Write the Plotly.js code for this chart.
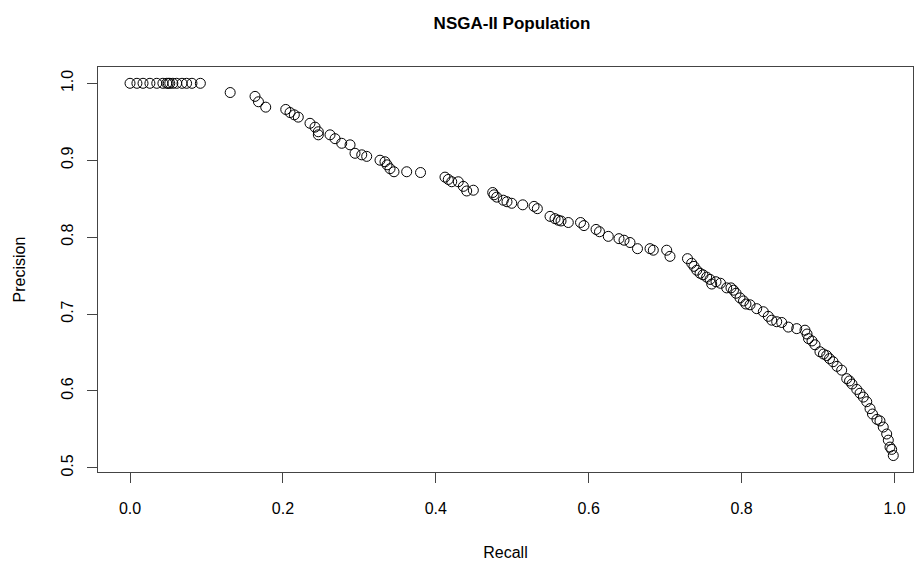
<!DOCTYPE html>
<html>
<head>
<meta charset="utf-8">
<script src="https://cdn.plot.ly/plotly-3.0.1.min.js"></script>
<style>html,body{margin:0;padding:0;background:#fff;}#chart{width:916px;height:565px;}</style>
</head>
<body>
<div id="chart"></div>
<script>
// Recall (x) values of the NSGA-II population
const recall = [
  0.000, 0.009, 0.017, 0.026, 0.035, 0.043, 0.048, 0.050, 0.052, 0.056, 0.061, 0.068, 0.074, 0.081, 0.092,
  0.131, 0.1635, 0.168, 0.1775, 0.2037, 0.2093, 0.2149, 0.2201, 0.2354, 0.242, 0.2463, 0.2463, 0.2616, 0.2682,
  0.2769, 0.2878, 0.2943, 0.3031, 0.3096, 0.3270, 0.3335, 0.3362, 0.3401, 0.3453, 0.3619, 0.3800,
  0.4120, 0.4163, 0.4208, 0.4294, 0.4360, 0.4404, 0.4491, 0.4744, 0.4761, 0.4797, 0.4883, 0.4931, 0.4993,
  0.5137, 0.5285, 0.5328, 0.5494, 0.5559, 0.5602, 0.5638, 0.5733, 0.5893, 0.5938, 0.6096, 0.6141, 0.6256,
  0.6396, 0.6462, 0.6540, 0.6638, 0.6802, 0.6845, 0.7020, 0.7063, 0.7292, 0.7347, 0.7377, 0.7413, 0.7456,
  0.7495, 0.7543, 0.7587, 0.7609, 0.7665, 0.7724, 0.7805, 0.7861, 0.7894, 0.7927, 0.7979, 0.8025, 0.8057,
  0.8110, 0.8197, 0.8284, 0.8349, 0.8394, 0.8459, 0.8525, 0.8611, 0.8721, 0.8829, 0.8856, 0.8875, 0.8921,
  0.8960, 0.9025, 0.9071, 0.9113, 0.9150, 0.9196, 0.9248, 0.9309, 0.9375, 0.9412, 0.9444, 0.9506, 0.9549,
  0.9592, 0.9637, 0.9680, 0.9712, 0.9771, 0.9810, 0.9853, 0.9898, 0.9919, 0.9941, 0.9963, 0.9984
];
// Precision (y) values of the NSGA-II population
const precision = [
  1.000, 1.000, 1.000, 1.000, 1.000, 1.000, 1.000, 1.000, 1.000, 1.000, 1.000, 1.000, 1.000, 1.000, 1.000,
  0.988, 0.983, 0.976, 0.969, 0.966, 0.962, 0.959, 0.956, 0.948, 0.943, 0.937, 0.933, 0.933, 0.928,
  0.922, 0.920, 0.909, 0.907, 0.905, 0.900, 0.898, 0.894, 0.889, 0.885, 0.885, 0.884,
  0.878, 0.875, 0.872, 0.872, 0.866, 0.860, 0.861, 0.858, 0.855, 0.852, 0.848, 0.846, 0.844,
  0.842, 0.840, 0.837, 0.827, 0.824, 0.822, 0.821, 0.819, 0.819, 0.815, 0.810, 0.807, 0.801,
  0.798, 0.796, 0.793, 0.785, 0.785, 0.783, 0.783, 0.775, 0.772, 0.766, 0.762, 0.757, 0.753,
  0.751, 0.748, 0.745, 0.739, 0.742, 0.740, 0.734, 0.734, 0.731, 0.727, 0.721, 0.717, 0.713,
  0.712, 0.707, 0.703, 0.697, 0.692, 0.690, 0.689, 0.683, 0.681, 0.679, 0.674, 0.668, 0.665,
  0.660, 0.651, 0.648, 0.646, 0.642, 0.638, 0.632, 0.627, 0.616, 0.613, 0.609, 0.602, 0.597,
  0.592, 0.586, 0.577, 0.570, 0.563, 0.561, 0.553, 0.544, 0.536, 0.527, 0.524, 0.516
];
const xTicks = [0, 0.2, 0.4, 0.6, 0.8, 1.0];
const xTickLabels = ["0.0", "0.2", "0.4", "0.6", "0.8", "1.0"];
const yTicks = [0.5, 0.6, 0.7, 0.8, 0.9, 1.0];
const yTickLabels = ["0.5", "0.6", "0.7", "0.8", "0.9", "1.0"];

const FONT = "Liberation Sans, Arial, sans-serif";
const trace = {
  x: recall, y: precision, type: "scatter", mode: "markers",
  marker: {symbol: "circle-open", size: 10, color: "#000", line: {width: 1, color: "#000"}},
  hoverinfo: "x+y"
};
const layout = {
  width: 916, height: 565,
  paper_bgcolor: "#fff", plot_bgcolor: "#fff",
  margin: {l: 98, r: 3, t: 67, b: 93, pad: 0},
  showlegend: false,
  font: {family: FONT, color: "#000", size: 16},
  title: {text: "<b>NSGA-II Population</b>", font: {family: FONT, size: 17, color: "#000"},
          x: 512/916, xref: "container", xanchor: "center", y: 1 - 23/565, yref: "container", yanchor: "middle"},
  xaxis: {
    range: [-0.0419, 1.0242], autorange: false,
    tickmode: "array", tickvals: xTicks, ticktext: xTickLabels,
    ticks: "outside", ticklen: 10, tickwidth: 1, tickcolor: "#444",
    ticklabelstandoff: 12,
    showline: true, mirror: true, linecolor: "#444", linewidth: 1,
    showgrid: false, zeroline: false,
    tickfont: {family: FONT, size: 16, color: "#000"},
    title: {text: "Recall", font: {family: FONT, size: 16, color: "#000"}, standoff: 30},
    automargin: false
  },
  yaxis: {
    range: [0.4946, 1.0212], autorange: false,
    tickmode: "array", tickvals: yTicks, ticktext: yTickLabels,
    ticks: "outside", ticklen: 10, tickwidth: 1, tickcolor: "#444",
    tickangle: -90, ticklabelstandoff: 8,
    showline: true, mirror: true, linecolor: "#444", linewidth: 1,
    showgrid: false, zeroline: false,
    tickfont: {family: FONT, size: 16, color: "#000"},
    title: {text: "Precision", font: {family: FONT, size: 16, color: "#000"}, standoff: 28},
    automargin: false
  }
};
Plotly.newPlot("chart", [trace], layout, {staticPlot: true, displayModeBar: false});
</script>
</body>
</html>
